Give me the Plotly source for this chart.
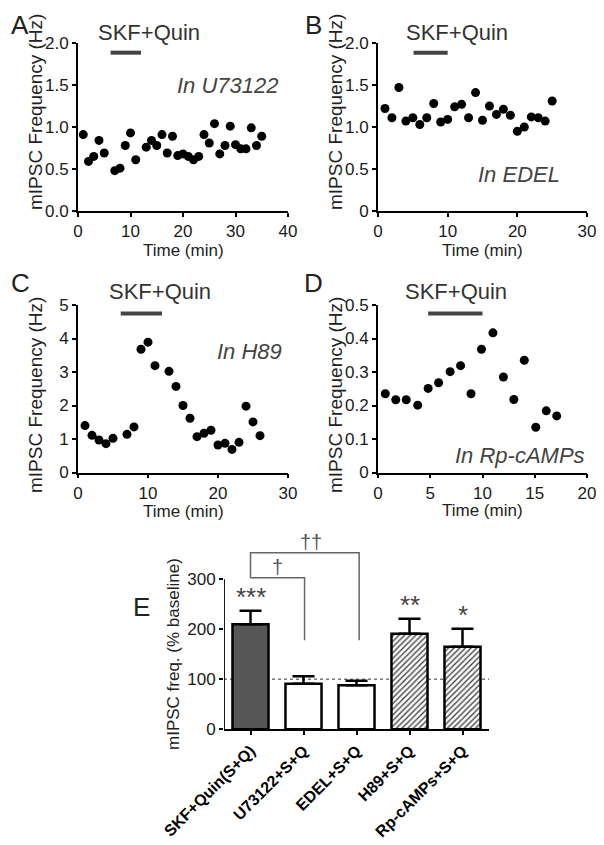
import plotly.graph_objects as go

# ---- data ----
a_time = [1, 2, 3, 4, 5, 7, 8, 9, 10, 11, 13, 14, 15, 16, 17, 18, 19, 20, 21, 22, 23,
          24, 25, 26, 27, 28, 29, 30, 31, 32, 33, 34, 35]
a_freq = [0.91, 0.59, 0.65, 0.84, 0.69, 0.48, 0.51, 0.78, 0.93, 0.61, 0.76, 0.84, 0.78,
          0.91, 0.69, 0.89, 0.66, 0.68, 0.65, 0.61, 0.65, 0.91, 0.81, 1.04, 0.68, 0.78,
          1.01, 0.79, 0.74, 0.74, 0.99, 0.78, 0.89]

b_time = list(range(1, 26))
b_freq = [1.22, 1.11, 1.47, 1.07, 1.11, 1.03, 1.11, 1.28, 1.06, 1.09, 1.24, 1.27, 1.11,
          1.41, 1.08, 1.25, 1.15, 1.21, 1.14, 0.95, 1.00, 1.12, 1.11, 1.07, 1.31]

c_time = [1, 2, 3, 4, 5, 7, 8, 9, 10, 11, 13, 14, 15, 16, 17, 18, 19, 20, 21, 22, 23, 24, 25, 26]
c_freq = [1.40, 1.11, 0.97, 0.86, 1.02, 1.14, 1.36, 3.68, 3.89, 3.19, 3.02, 2.57, 2.00,
          1.62, 1.07, 1.17, 1.26, 0.82, 0.87, 0.69, 0.90, 1.98, 1.51, 1.10]

d_time = [0.7, 1.7, 2.7, 3.8, 4.8, 5.8, 6.9, 7.9, 8.9, 9.9, 11.0, 12.0, 13.0, 14.0, 15.1, 16.1, 17.1]
d_freq = [0.235, 0.217, 0.217, 0.201, 0.251, 0.268, 0.301, 0.319, 0.235, 0.368, 0.417,
          0.285, 0.218, 0.335, 0.135, 0.184, 0.169]

# drug application (start, end) and level of the bar
a_skf = [6.2, 12.0]; a_skf_y = 1.885
b_skf = [5.1, 10.0]; b_skf_y = 1.885
c_skf = [6.1, 12.0]; c_skf_y = 4.75
d_skf = [4.8, 10.0]; d_skf_y = 0.475

e_groups = ["SKF+Quin(S+Q)", "U73122+S+Q", "EDEL+S+Q", "H89+S+Q", "Rp-cAMPs+S+Q"]
e_mean = [210, 91, 88, 191, 165]
e_sem = [27, 15, 9, 30, 36]
e_stars = ["***", "", "", "**", "*"]

FONT = "Liberation Sans, Arial, sans-serif"
# the page puts the plot 8px in from the top-left corner, so the figure is
# 8px smaller and every reference pixel position is shifted by 8
OFF = 8
W, H = 604 - OFF, 845 - OFF


def px(x):
    return (x - OFF) / W


def py(y):
    return 1 - (y - OFF) / H


fig = go.Figure()

panels = [
    (a_time, a_freq, a_skf, a_skf_y, "x", "y"),
    (b_time, b_freq, b_skf, b_skf_y, "x2", "y2"),
    (c_time, c_freq, c_skf, c_skf_y, "x3", "y3"),
    (d_time, d_freq, d_skf, d_skf_y, "x4", "y4"),
]
for t, f, skf, skf_y, xa, ya in panels:
    fig.add_trace(go.Scatter(x=t, y=f, mode="markers", xaxis=xa, yaxis=ya,
                             marker=dict(color="black", size=9), showlegend=False))
    fig.add_trace(go.Scatter(x=skf, y=[skf_y, skf_y], mode="lines", xaxis=xa, yaxis=ya,
                             line=dict(color="#444", width=4), showlegend=False))

# panel E bars
fig.add_trace(go.Bar(
    x=list(range(len(e_groups))), y=e_mean, xaxis="x5", yaxis="y5", width=0.68,
    marker=dict(color=["#565656", "white", "white", "white", "white"],
                line=dict(color="black", width=2.5),
                pattern=dict(shape=["", "", "", "/", "/"], fillmode="overlay",
                             fgcolor="#777777", fgopacity=1, size=4, solidity=0.35)),
    error_y=dict(type="data", symmetric=False, array=e_sem, arrayminus=[0] * 5,
                 color="black", thickness=2.5, width=11),
    showlegend=False))

axis = dict(showline=True, linecolor="black", linewidth=1.8, ticks="outside", ticklen=4,
            tickwidth=1.8, tickcolor="black", showgrid=False, zeroline=False,
            automargin=False,
            tickfont=dict(family=FONT, size=17, color="#1a1a1a"))

xa_left = [px(78), px(288)]
xa_right = [px(378), px(587)]
ya_top = [py(211), py(43)]
ya_mid = [py(472.5), py(305)]

fig.update_layout(
    template="none",
    width=W, height=H, margin=dict(l=0, r=0, t=0, b=0, pad=0),
    paper_bgcolor="white", plot_bgcolor="rgba(0,0,0,0)",
    xaxis=dict(axis, domain=xa_left, anchor="y", range=[0, 40], tickvals=[0, 10, 20, 30, 40]),
    yaxis=dict(axis, domain=ya_top, anchor="x", range=[0, 2],
               tickvals=[0, 0.5, 1, 1.5, 2], ticktext=["0.0", "0.5", "1.0", "1.5", "2.0"]),
    xaxis2=dict(axis, domain=xa_right, anchor="y2", range=[0, 30], tickvals=[0, 10, 20, 30]),
    yaxis2=dict(axis, domain=ya_top, anchor="x2", range=[0, 2],
                tickvals=[0, 0.5, 1, 1.5, 2], ticktext=["0", "0.5", "1.0", "1.5", "2.0"]),
    xaxis3=dict(axis, domain=xa_left, anchor="y3", range=[0, 30], tickvals=[0, 10, 20, 30]),
    yaxis3=dict(axis, domain=ya_mid, anchor="x3", range=[0, 5], tickvals=[0, 1, 2, 3, 4, 5]),
    xaxis4=dict(axis, domain=xa_right, anchor="y4", range=[0, 20], tickvals=[0, 5, 10, 15, 20]),
    yaxis4=dict(axis, domain=ya_mid, anchor="x4", range=[0, 0.5],
                tickvals=[0, 0.1, 0.2, 0.3, 0.4, 0.5],
                ticktext=["0", "0.1", "0.2", "0.3", "0.4", "0.5"]),
    xaxis5=dict(axis, domain=[px(224), px(489)], anchor="y5", range=[-0.5, 4.5],
                tickvals=list(range(len(e_groups))), ticktext=e_groups, tickangle=-45,
                tickfont=dict(family=FONT, size=16, color="black", weight="bold")),
    yaxis5=dict(axis, domain=[py(729.3), py(544.3)], anchor="x5", range=[0, 370],
                showline=False, tickvals=[0, 100, 200, 300]),
)

# y axis line of E only up to 300, baseline, brackets
fig.add_shape(type="line", xref="x5", yref="y5", x0=-0.5, x1=-0.5, y0=0, y1=300,
              line=dict(color="black", width=1.8))
fig.add_shape(type="line", xref="x5", yref="y5", x0=-0.5, x1=4.5, y0=100, y1=100,
              layer="below", line=dict(color="#777", width=1.5, dash="dot"))
bracket_low = 178
fig.add_shape(type="path", xref="x5", yref="y5",
              path=f"M 0,303 L 1.02,303 L 1.02,{bracket_low}",
              line=dict(color="#666", width=1.5))
fig.add_shape(type="path", xref="x5", yref="y5",
              path=f"M 0,303 L 0,353 L 2.05,353 L 2.05,{bracket_low}",
              line=dict(color="#666", width=1.5))


def ann(text, x, y, size, color="#333", italic=False, angle=0, **kw):
    fig.add_annotation(text=f"<i>{text}</i>" if italic else text, x=px(x), y=py(y),
                       xref="paper", yref="paper", showarrow=False, textangle=angle,
                       xanchor="center", yanchor="middle",
                       font=dict(family=FONT, size=size, color=color), **kw)


# panel letters (kept just inside the figure edge)
for letter, x, y in [("A", 20, 25), ("B", 313, 25), ("C", 20, 283), ("D", 313, 283), ("E", 141, 607)]:
    ann(letter, x, y, 26, "#222", borderpad=0)

for x, y in [(149, 32), (457, 32), (160, 292), (456, 292)]:
    ann("SKF+Quin", x, y, 22, "#333")

ann("In U73122", 228, 86, 22, "#444", italic=True)
ann("In EDEL", 519, 174, 22, "#444", italic=True)
ann("In H89", 249, 351, 22, "#444", italic=True)
ann("In Rp-cAMPs", 520, 455, 22, "#444", italic=True)

for x, y in [(35, 112), (335, 112), (35, 395), (335, 395)]:
    ann("mIPSC Frequency (Hz)", x, y, 19, "#222", angle=-90)
for x, y in [(183, 250), (482, 250), (183, 511), (482, 510)]:
    ann("Time (min)", x, y, 17, "#222")
ann("mIPSC freq. (% baseline)", 173, 654, 17, "#222", angle=-90)

# significance marks
for i, s in enumerate(e_stars):
    if s:
        fig.add_annotation(text=s, x=i, y=e_mean[i] + e_sem[i], xref="x5", yref="y5",
                           showarrow=False, yanchor="bottom", yshift=-3,
                           font=dict(family=FONT, size=26, color="#444"))
fig.add_annotation(text="†", x=0.51, y=303, xref="x5", yref="y5", showarrow=False,
                   yanchor="bottom", yshift=-2, font=dict(family=FONT, size=20, color="#555"))
fig.add_annotation(text="††", x=1.14, y=353, xref="x5", yref="y5", showarrow=False,
                   yanchor="bottom", yshift=-2, font=dict(family=FONT, size=20, color="#555"))

fig.write_html("out.html")
